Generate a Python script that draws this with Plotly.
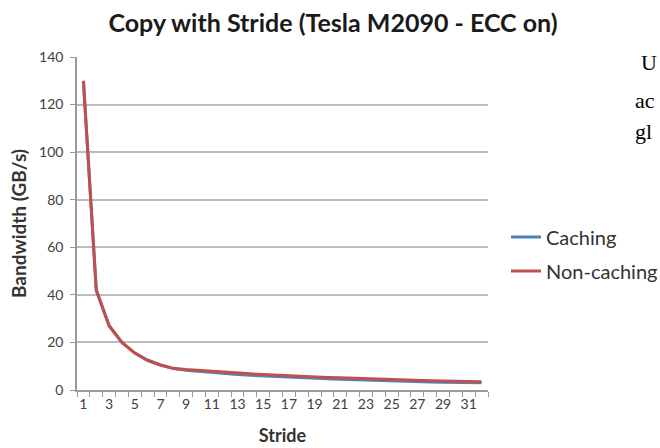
import plotly.graph_objects as go

stride = list(range(1, 33))
caching = [130, 42, 27, 20, 15.5, 12.5, 10.5, 9.0, 8.3, 7.8, 7.3, 6.9, 6.5, 6.2, 5.9, 5.6,
           5.3, 5.1, 4.9, 4.7, 4.5, 4.3, 4.1, 4.0, 3.8, 3.7, 3.5, 3.4, 3.3, 3.2, 3.1, 3.0]
non_caching = [130, 42, 27, 20, 15.5, 12.5, 10.5, 9.1, 8.6, 8.2, 7.8, 7.4, 7.1, 6.8, 6.5, 6.2,
               5.9, 5.7, 5.5, 5.3, 5.1, 4.9, 4.7, 4.5, 4.4, 4.2, 4.1, 3.9, 3.8, 3.7, 3.6, 3.5]
x_ticks = list(range(1, 33, 2))
y_ticks = list(range(0, 141, 20))
side_text = ["U", "ac", "gl"]

W, H = 660, 448
PL, PR, PT, PB = 77, 488, 57, 390  # plot area in window pixels


def px(x):
    return (x - PL) / (PR - PL)


def py(y):
    return (PB - y) / (PB - PT)


def cx(x):
    return x / W


def cy(y):
    return 1 - y / H


fig = go.Figure()
fig.add_trace(go.Scatter(x=stride, y=caching, mode="lines", name="Caching",
                         legendgroup="a", line=dict(color="#4F81BD", width=3)))
fig.add_trace(go.Scatter(x=stride, y=non_caching, mode="lines", name="Non-caching",
                         legendgroup="b", line=dict(color="#C0504D", width=3)))

FONT = "Lato, Open Sans, sans-serif"
axis_font = dict(family=FONT, size=14, color="#404040")
fig.update_layout(
    width=W, height=H,
    margin=dict(l=PL, r=W - PR, t=PT, b=H - PB),
    paper_bgcolor="white", plot_bgcolor="white",
    title=dict(text="<b>Copy with Stride (Tesla M2090 - ECC on)</b>",
               xref="container", yref="container",
               x=cx(333), xanchor="center", y=cy(23), yanchor="middle",
               font=dict(family=FONT, size=25, color="#1a1a1a")),
    showlegend=True,
    legend=dict(xref="container", yref="container", x=cx(506), y=cy(254),
                xanchor="left", yanchor="middle",
                traceorder="grouped", tracegroupgap=5, borderwidth=0,
                font=dict(family=FONT, size=20, color="#333333"),
                bgcolor="rgba(0,0,0,0)"),
    xaxis=dict(range=[0.5, 32.5], tickmode="array", tickvals=x_ticks,
               ticktext=[str(v) for v in x_ticks], ticks="", showgrid=False,
               showline=True, linecolor="#9a9a9a", linewidth=1.5, zeroline=False,
               tickfont=axis_font, automargin=False,
               minor=dict(ticks="outside", ticklen=5, tickcolor="#9a9a9a", tickwidth=1,
                          tick0=0.5, dtick=1, showgrid=False),
               title=dict(text="<b>Stride</b>",
                          font=dict(family=FONT, size=18, color="#333333"),
                          standoff=19)),
    yaxis=dict(range=[0, 140], tickmode="array", tickvals=y_ticks, ticks="outside",
               ticklen=5, tickcolor="#9a9a9a", showgrid=True, gridcolor="#bcbcbc",
               gridwidth=1.5, showline=True, linecolor="#9a9a9a", linewidth=1.5,
               zeroline=False, tickfont=axis_font, ticklabelstandoff=4, automargin=False,
               title=dict(text="<b>Bandwidth (GB/s)</b>",
                          font=dict(family=FONT, size=19, color="#333333"),
                          standoff=7)),
)

serif = dict(family="Liberation Serif, Times New Roman, serif", size=22, color="#000000")
for txt, xp, yp in zip(side_text, [639, 633, 633], [62, 100, 131]):
    fig.add_annotation(text=txt, xref="paper", yref="paper",
                       x=px(xp), y=py(yp),
                       xanchor="left", yanchor="middle", showarrow=False, font=serif)

fig.write_html("out.html",
               config={"displayModeBar": False},
               post_script="document.body.style.margin='0px';"
                           "document.body.style.overflow='hidden';")
